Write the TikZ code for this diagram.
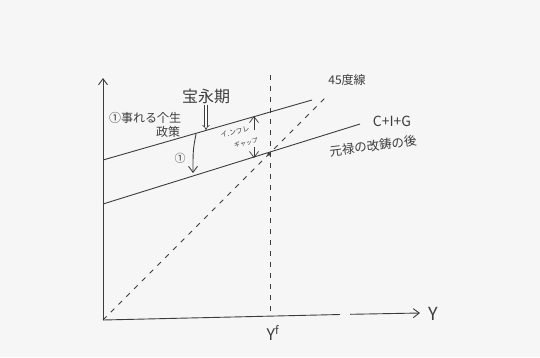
\documentclass[tikz,border=0pt]{standalone}
\usepackage{fontspec}
\newfontfamily\jp{Noto Sans CJK JP}
\usetikzlibrary{arrows.meta}
\definecolor{ink}{HTML}{3C3C3C}
\definecolor{paper}{HTML}{F6F6F6}
\begin{document}
\begin{tikzpicture}[x=1pt,y=-1pt,
  pen/.style={draw=ink, line width=0.9pt},
  dsh/.style={draw=ink, line width=0.9pt, dash pattern=on 5pt off 6pt},
  tip/.style={-{Straight Barb[length=6pt,width=9pt]}},
  lbl/.style={text=ink, inner sep=1pt, font=\jp\fontsize{12}{14}\selectfont}]
\fill[paper] (0,0) rectangle (540,357);
\useasboundingbox (0,0) rectangle (540,357);
% coordinates
\coordinate (O) at (103,320);
\coordinate (ytop) at (103,78);
\coordinate (g1) at (340,314.5);
\coordinate (g2) at (350,314.3);
\coordinate (xend) at (420,313);
\coordinate (u1) at (103,160);
\coordinate (u2) at (312,100);
\coordinate (l1) at (103,204);
\coordinate (l2) at (360,124);
\coordinate (v1) at (270,75);
\coordinate (v2) at (270,314);
\coordinate (d2) at (325,98);
\coordinate (E) at (269,154);
% axes
\draw[pen,tip] (O) -- (ytop);
\draw[pen] (O) -- (g1);
\draw[pen,tip] (g2) -- (xend);
% lines
\draw[pen] (u1) -- (u2);
\draw[pen] (l1) -- (l2);
\draw[dsh] (v1) -- (v2);
\draw[dsh] (O) -- (d2);
\fill[ink] (E) circle (1.8pt);
% labels
\node[lbl, font=\jp\fontsize{16}{18}\selectfont] (hoei) at (206,96) {宝永期};
\coordinate (hoeiEnd) at (206,130);
\draw[ink, line width=0.6pt, double, double distance=2pt, -{Implies}] (hoei.south) -- (hoeiEnd);
\node[lbl, font=\jp\fontsize{12}{14}\selectfont] (pol1) at (145,118) {①事れる个生};
\node[lbl, font=\jp\fontsize{12}{14}\selectfont] (pol2) at (168,132) {政策};
\node[lbl, font=\jp\fontsize{11}{13}\selectfont] (one) at (180,158) {①};
\coordinate (oneS) at (196,134);
\coordinate (oneE) at (193,173);
\draw[pen,tip] (oneS) .. controls (193,150) .. (oneE);
\node[lbl, inner sep=0pt, font=\jp\fontsize{7}{8}\selectfont, rotate=12] (inf) at (235,132) {イ.ンフレ};
\node[lbl, inner sep=0pt, font=\jp\fontsize{6}{7}\selectfont, rotate=12] (gap) at (246,143) {ギャップ};
\coordinate (infTop) at (254,116);
\coordinate (gapBot) at (254,158);
\draw[pen,tip,line width=0.7pt] (254,130) -- (infTop);
\draw[pen,tip,line width=0.7pt] (254,147) -- (gapBot);
\node[lbl, font=\jp\fontsize{12}{14}\selectfont] (deg) at (347,80) {45度線};
\node[lbl, font=\jp\fontsize{14}{16}\selectfont] (cig) at (392,121) {C+I+G};
\node[lbl, font=\jp\fontsize{12.5}{14}\selectfont, rotate=7] (genroku) at (373,146) {元禄の改鋳の後};
\node[lbl, font=\jp\fontsize{18}{20}\selectfont] (Y) at (433,314) {Y};
\node[lbl, font=\jp\fontsize{16}{18}\selectfont] (Yf) at (273,333) {Y\textsuperscript{f}};
\end{tikzpicture}
\end{document}
